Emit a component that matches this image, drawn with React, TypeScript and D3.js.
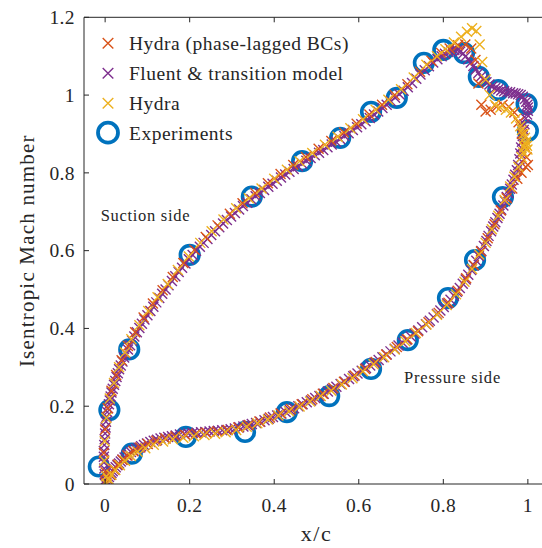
import React from 'react';
import * as d3 from 'd3';

// Experimental isentropic Mach number (x/c, M)
const experiments: [number, number][] = [
  [-0.015, 0.045], [0.01, 0.19], [0.057, 0.346], [0.2, 0.589], [0.347, 0.739],
  [0.466, 0.83], [0.556, 0.89], [0.629, 0.957], [0.69, 0.993], [0.754, 1.083],
  [0.8, 1.116], [0.849, 1.108], [0.884, 1.047], [0.93, 1.013], [0.997, 0.977],
  [1.0, 0.908], [0.941, 0.738], [0.875, 0.576], [0.811, 0.478], [0.716, 0.37],
  [0.629, 0.296], [0.53, 0.226], [0.43, 0.185], [0.331, 0.134], [0.191, 0.121],
  [0.063, 0.078],
];

// Fluent & transition model, suction side then pressure side
const fluentSuction: [number, number][] = [
  [0.0, 0.0], [0.0, 0.01], [-0.001, 0.025], [-0.002, 0.04], [-0.003, 0.055], [-0.003, 0.07],
  [-0.003, 0.085], [-0.002, 0.1], [-0.001, 0.115], [0.0, 0.13], [0.001, 0.145], [0.002, 0.16],
  [0.003, 0.173], [0.005, 0.185], [0.007, 0.195], [0.009, 0.205], [0.011, 0.215], [0.013, 0.225],
  [0.015, 0.235], [0.018, 0.245], [0.021, 0.255], [0.024, 0.265], [0.027, 0.275], [0.03, 0.285],
  [0.033, 0.295], [0.037, 0.305], [0.041, 0.315], [0.045, 0.325], [0.049, 0.335], [0.054, 0.346],
  [0.059, 0.357], [0.064, 0.368], [0.069, 0.379], [0.075, 0.39], [0.081, 0.401], [0.087, 0.412],
  [0.093, 0.423], [0.1, 0.434], [0.107, 0.445], [0.114, 0.456], [0.121, 0.467], [0.128, 0.478],
  [0.135, 0.489], [0.143, 0.5], [0.15, 0.511], [0.158, 0.522], [0.166, 0.534], [0.174, 0.545],
  [0.182, 0.556], [0.19, 0.567], [0.198, 0.578], [0.207, 0.589], [0.215, 0.6], [0.224, 0.61],
  [0.233, 0.62], [0.242, 0.63], [0.251, 0.64], [0.26, 0.65], [0.27, 0.66], [0.279, 0.67],
  [0.288, 0.679], [0.298, 0.688], [0.307, 0.697], [0.317, 0.706], [0.326, 0.715], [0.336, 0.723],
  [0.346, 0.732], [0.356, 0.74], [0.366, 0.748], [0.376, 0.756], [0.386, 0.764], [0.396, 0.772],
  [0.406, 0.78], [0.416, 0.788], [0.426, 0.796], [0.436, 0.803], [0.446, 0.81], [0.456, 0.817],
  [0.466, 0.824], [0.476, 0.831], [0.486, 0.838], [0.496, 0.845], [0.506, 0.852], [0.516, 0.859],
  [0.526, 0.866], [0.536, 0.873], [0.546, 0.88], [0.556, 0.887], [0.566, 0.895], [0.576, 0.902],
  [0.586, 0.91], [0.596, 0.917], [0.606, 0.925], [0.616, 0.933], [0.626, 0.941], [0.636, 0.95],
  [0.646, 0.958], [0.656, 0.967], [0.666, 0.975], [0.676, 0.984], [0.686, 0.993], [0.696, 1.002],
  [0.706, 1.011], [0.716, 1.02], [0.726, 1.031], [0.736, 1.042], [0.746, 1.053], [0.756, 1.064],
  [0.766, 1.074], [0.776, 1.084], [0.786, 1.092], [0.796, 1.1], [0.804, 1.106], [0.812, 1.111],
  [0.819, 1.114], [0.826, 1.116], [0.833, 1.115], [0.84, 1.112], [0.847, 1.107], [0.853, 1.1],
  [0.859, 1.092], [0.865, 1.084], [0.871, 1.075], [0.877, 1.066], [0.883, 1.057], [0.889, 1.048],
  [0.895, 1.04], [0.902, 1.033], [0.909, 1.027], [0.916, 1.022], [0.923, 1.018], [0.93, 1.015],
  [0.937, 1.012], [0.944, 1.01], [0.951, 1.008], [0.958, 1.007], [0.965, 1.005], [0.971, 1.004],
  [0.977, 1.002], [0.983, 1.0], [0.988, 0.996], [0.993, 0.99], [0.996, 0.983], [0.999, 0.975],
  [1.0, 0.968], [1.0, 0.96],
];
const fluentPressure: [number, number][] = [
  [0.998, 0.95], [0.995, 0.94], [0.992, 0.925], [0.99, 0.91], [0.988, 0.895], [0.986, 0.88],
  [0.984, 0.865], [0.982, 0.85], [0.98, 0.835], [0.977, 0.82], [0.974, 0.807], [0.97, 0.795],
  [0.966, 0.782], [0.962, 0.77], [0.958, 0.759], [0.954, 0.748], [0.95, 0.738], [0.946, 0.727],
  [0.942, 0.716], [0.937, 0.705], [0.933, 0.695], [0.928, 0.684], [0.923, 0.673], [0.918, 0.662],
  [0.913, 0.65], [0.907, 0.638], [0.902, 0.625], [0.896, 0.612], [0.89, 0.599], [0.884, 0.586],
  [0.878, 0.574], [0.872, 0.562], [0.866, 0.55], [0.859, 0.538], [0.853, 0.526], [0.846, 0.515],
  [0.839, 0.504], [0.832, 0.494], [0.825, 0.484], [0.817, 0.474], [0.809, 0.464], [0.801, 0.455],
  [0.793, 0.446], [0.785, 0.437], [0.777, 0.428], [0.768, 0.42], [0.759, 0.411], [0.75, 0.403],
  [0.741, 0.395], [0.732, 0.387], [0.723, 0.379], [0.713, 0.371], [0.704, 0.363], [0.694, 0.356],
  [0.685, 0.348], [0.675, 0.341], [0.666, 0.333], [0.656, 0.326], [0.647, 0.319], [0.637, 0.312],
  [0.627, 0.305], [0.617, 0.298], [0.607, 0.291], [0.597, 0.284], [0.587, 0.277], [0.577, 0.27],
  [0.567, 0.263], [0.557, 0.257], [0.547, 0.25], [0.537, 0.244], [0.527, 0.238], [0.517, 0.232],
  [0.507, 0.226], [0.497, 0.221], [0.487, 0.215], [0.477, 0.21], [0.467, 0.205], [0.457, 0.2],
  [0.447, 0.195], [0.437, 0.19], [0.427, 0.185], [0.417, 0.181], [0.407, 0.176], [0.397, 0.172],
  [0.387, 0.168], [0.377, 0.164], [0.367, 0.16], [0.357, 0.157], [0.347, 0.154], [0.337, 0.151],
  [0.327, 0.148], [0.317, 0.146], [0.307, 0.143], [0.297, 0.141], [0.287, 0.139], [0.277, 0.138],
  [0.267, 0.137], [0.257, 0.136], [0.247, 0.135], [0.237, 0.134], [0.227, 0.133], [0.217, 0.132],
  [0.207, 0.131], [0.197, 0.13], [0.187, 0.129], [0.177, 0.127], [0.167, 0.125], [0.158, 0.123],
  [0.149, 0.121], [0.14, 0.119], [0.131, 0.117], [0.123, 0.114], [0.115, 0.111], [0.107, 0.108],
  [0.099, 0.104], [0.092, 0.1], [0.085, 0.097], [0.079, 0.093], [0.073, 0.09], [0.067, 0.086],
  [0.061, 0.082], [0.056, 0.077], [0.051, 0.073], [0.046, 0.068], [0.041, 0.063], [0.037, 0.058],
  [0.033, 0.053], [0.029, 0.048], [0.025, 0.043], [0.022, 0.038], [0.018, 0.033], [0.015, 0.028],
  [0.012, 0.023], [0.009, 0.018], [0.006, 0.013], [0.004, 0.008], [0.002, 0.003],
];

// Hydra
const hydraSuction: [number, number][] = [
  [0.003, 0.02], [-0.002, 0.06], [-0.001, 0.11], [0.003, 0.17], [0.011, 0.22],
  [0.021, 0.26], [0.033, 0.3], [0.047, 0.338], [0.062, 0.372], [0.081, 0.408],
  [0.102, 0.445], [0.124, 0.48], [0.148, 0.514], [0.172, 0.55], [0.198, 0.585],
  [0.225, 0.62], [0.252, 0.65], [0.28, 0.68], [0.31, 0.709], [0.34, 0.735],
  [0.37, 0.76], [0.4, 0.785], [0.43, 0.808], [0.46, 0.83], [0.49, 0.851],
  [0.52, 0.872], [0.55, 0.893], [0.58, 0.915], [0.61, 0.938], [0.64, 0.962],
  [0.67, 0.988], [0.7, 1.015], [0.73, 1.045], [0.76, 1.078], [0.785, 1.1],
  [0.805, 1.118], [0.825, 1.135], [0.842, 1.15], [0.856, 1.163], [0.868, 1.172],
  [0.878, 1.165], [0.886, 1.13], [0.892, 1.085], [0.9, 1.04], [0.91, 1.0],
  [0.922, 0.975], [0.935, 0.968], [0.948, 0.962], [0.96, 0.955], [0.972, 0.94],
  [0.982, 0.92], [0.986, 0.91], [0.99, 0.9], [0.993, 0.89], [0.996, 0.88],
  [0.998, 0.87], [0.999, 0.86],
];
const hydraPressure: [number, number][] = [
  [0.995, 0.875], [0.992, 0.865], [0.989, 0.853], [0.985, 0.84], [0.978, 0.815], [0.968, 0.79],
  [0.958, 0.765], [0.945, 0.73], [0.93, 0.69], [0.915, 0.655], [0.9, 0.62], [0.885, 0.59],
  [0.868, 0.553], [0.85, 0.52], [0.83, 0.488], [0.808, 0.46], [0.785, 0.435],
  [0.76, 0.41], [0.735, 0.388], [0.71, 0.367], [0.685, 0.346], [0.66, 0.326],
  [0.635, 0.308], [0.61, 0.29], [0.585, 0.272], [0.56, 0.256], [0.535, 0.24],
  [0.51, 0.226], [0.485, 0.212], [0.46, 0.199], [0.435, 0.187], [0.41, 0.176],
  [0.385, 0.166], [0.36, 0.156], [0.335, 0.147], [0.31, 0.139], [0.285, 0.133],
  [0.26, 0.129], [0.235, 0.126], [0.21, 0.123], [0.185, 0.119], [0.16, 0.115],
  [0.137, 0.109], [0.115, 0.101], [0.095, 0.092], [0.077, 0.083], [0.061, 0.072],
  [0.047, 0.06], [0.035, 0.048], [0.024, 0.036], [0.015, 0.024], [0.008, 0.012],
  [0.004, 0.0],
];

// Hydra (phase-lagged BCs)
const lagSuction: [number, number][] = [
  [0.001, 0.03], [-0.003, 0.08], [0.0, 0.14], [0.006, 0.195], [0.015, 0.24],
  [0.026, 0.28], [0.039, 0.318], [0.054, 0.355], [0.071, 0.39], [0.091, 0.428],
  [0.113, 0.464], [0.136, 0.498], [0.16, 0.532], [0.185, 0.568], [0.211, 0.602],
  [0.238, 0.635], [0.266, 0.665], [0.295, 0.695], [0.325, 0.722], [0.355, 0.748],
  [0.385, 0.773], [0.415, 0.797], [0.445, 0.82], [0.475, 0.841], [0.505, 0.862],
  [0.535, 0.882], [0.565, 0.904], [0.595, 0.926], [0.625, 0.95], [0.655, 0.975],
  [0.685, 1.0], [0.715, 1.028], [0.745, 1.06], [0.772, 1.088], [0.795, 1.108],
  [0.815, 1.12], [0.835, 1.128], [0.852, 1.13], [0.866, 1.12], [0.876, 1.09],
  [0.883, 1.03], [0.89, 0.975], [0.9, 0.958], [0.912, 0.962], [0.926, 0.97],
  [0.94, 0.975], [0.955, 0.97], [0.968, 0.955], [0.978, 0.93], [0.986, 0.9],
  [0.992, 0.87], [0.997, 0.84], [1.0, 0.82],
];
const lagPressure: [number, number][] = [
  [0.995, 0.815], [0.985, 0.8], [0.975, 0.785], [0.963, 0.76], [0.95, 0.735],
  [0.936, 0.703], [0.921, 0.668], [0.905, 0.632], [0.889, 0.598], [0.872, 0.563],
  [0.854, 0.529], [0.834, 0.497], [0.812, 0.466], [0.789, 0.44], [0.765, 0.416],
  [0.74, 0.393], [0.715, 0.372], [0.69, 0.352], [0.665, 0.333], [0.64, 0.314],
  [0.615, 0.296], [0.59, 0.279], [0.565, 0.263], [0.54, 0.247], [0.515, 0.232],
  [0.49, 0.218], [0.465, 0.205], [0.44, 0.193], [0.415, 0.181], [0.39, 0.171],
  [0.365, 0.161], [0.34, 0.152], [0.315, 0.145], [0.29, 0.139], [0.265, 0.135],
  [0.24, 0.132], [0.215, 0.129], [0.19, 0.126], [0.166, 0.122], [0.143, 0.117],
  [0.121, 0.111], [0.101, 0.103], [0.083, 0.094], [0.067, 0.084], [0.053, 0.073],
  [0.041, 0.062], [0.03, 0.05], [0.021, 0.037], [0.013, 0.024], [0.006, 0.012],
  [0.002, 0.003],
];

const xTicks = [0, 0.2, 0.4, 0.6, 0.8, 1];
const yTicks = [0, 0.2, 0.4, 0.6, 0.8, 1, 1.2];
const legendLabels = ['Hydra (phase-lagged BCs)', 'Fluent & transition model', 'Hydra', 'Experiments'];

const C_LAG = '#D95319';
const C_FLUENT = '#7E2F8E';
const C_HYDRA = '#EDB120';
const C_EXP = '#0072BD';
const FONT = '"Liberation Serif", "DejaVu Serif", serif';
const INK = '#262626';

const W = 542;
const H = 548;
const left = 84, right = 549, top = 17.3, bottom = 484;

const Cross = ({ x, y, color, s = 5 }: { x: number; y: number; color: string; s?: number }) => (
  <path d={`M${x - s},${y - s}L${x + s},${y + s}M${x - s},${y + s}L${x + s},${y - s}`}
    stroke={color} strokeWidth={1.4} fill="none" />
);

export default function App() {
  const x = d3.scaleLinear().domain([-0.05, 1.05]).range([left, right]);
  const y = d3.scaleLinear().domain([0, 1.2]).range([bottom, top]);
  const fmt = (v: number) => (v === 0 || v === 1 ? String(v) : v.toFixed(1));

  const crosses = (pts: [number, number][], color: string, key: string) =>
    pts.map((p, i) => <Cross key={key + i} x={x(p[0])} y={y(p[1])} color={color} />);

  const legendColors = [C_LAG, C_FLUENT, C_HYDRA];
  const legendY = [43.3, 73.3, 103.3, 132.7];

  return (
    <svg width={W} height={H} style={{ position: 'absolute', left: 0, top: 0, background: '#fff' }}
      fontFamily={FONT}>
      <defs>
        <clipPath id="plot">
          <rect x={left} y={top} width={right - left} height={bottom - top} />
        </clipPath>
      </defs>

      <g clipPath="url(#plot)">
        {experiments.map((p, i) => (
          <circle key={'e' + i} cx={x(p[0])} cy={y(p[1])} r={9.3} fill="none" stroke={C_EXP} strokeWidth={3.6} />
        ))}
        {crosses(fluentSuction, C_FLUENT, 'fs')}
        {crosses(fluentPressure, C_FLUENT, 'fp')}
        {crosses(lagSuction, C_LAG, 'ls')}
        {crosses(lagPressure, C_LAG, 'lp')}
        {crosses(hydraSuction, C_HYDRA, 'hs')}
        {crosses(hydraPressure, C_HYDRA, 'hp')}
      </g>

      {/* axes box */}
      <path d={`M${left},${bottom}L${left},${top}L${right},${top}`} fill="none" stroke={INK} strokeWidth={1} />
      <line x1={left} x2={right} y1={bottom} y2={bottom} stroke={INK} strokeWidth={1} />

      {xTicks.map(t => (
        <g key={'xt' + t}>
          <line x1={x(t)} x2={x(t)} y1={bottom} y2={bottom - 5} stroke={INK} />
          <line x1={x(t)} x2={x(t)} y1={top} y2={top + 5} stroke={INK} />
          <text x={x(t)} y={512} textAnchor="middle" fontSize={19.5} letterSpacing={0.4} fill={INK}>{fmt(t)}</text>
        </g>
      ))}
      {yTicks.map(t => (
        <g key={'yt' + t}>
          <line x1={left} x2={left + 5} y1={y(t)} y2={y(t)} stroke={INK} />
          <text x={75} y={y(t)} dy="0.35em" textAnchor="end" fontSize={19.5} letterSpacing={0.4} fill={INK}>{fmt(t)}</text>
        </g>
      ))}

      <text x={(left + right) / 2} y={541} textAnchor="middle" fontSize={22} letterSpacing={1.5} fill={INK}>x/c</text>
      <text transform={`translate(34,${(top + bottom) / 2}) rotate(-90)`} textAnchor="middle" fontSize={21}
        letterSpacing={1.2} fill={INK}>
        Isentropic Mach number
      </text>

      <text x={100.7} y={215} dy="0.35em" fontSize={16.5} letterSpacing={0.7} fill={INK}>Suction side</text>
      <text x={404} y={377} dy="0.35em" fontSize={16.5} letterSpacing={0.8} fill={INK}>Pressure side</text>

      {/* legend */}
      {legendLabels.map((lab, i) => (
        <g key={'lg' + i}>
          {i < 3
            ? <Cross x={108} y={legendY[i]} color={legendColors[i]} s={5.3} />
            : <circle cx={108} cy={legendY[i]} r={10} fill="none" stroke={C_EXP} strokeWidth={3.8} />}
          <text x={129} y={legendY[i]} dy="0.35em" fontSize={19.5} letterSpacing={0.5} fill={INK}>{lab}</text>
        </g>
      ))}
    </svg>
  );
}
